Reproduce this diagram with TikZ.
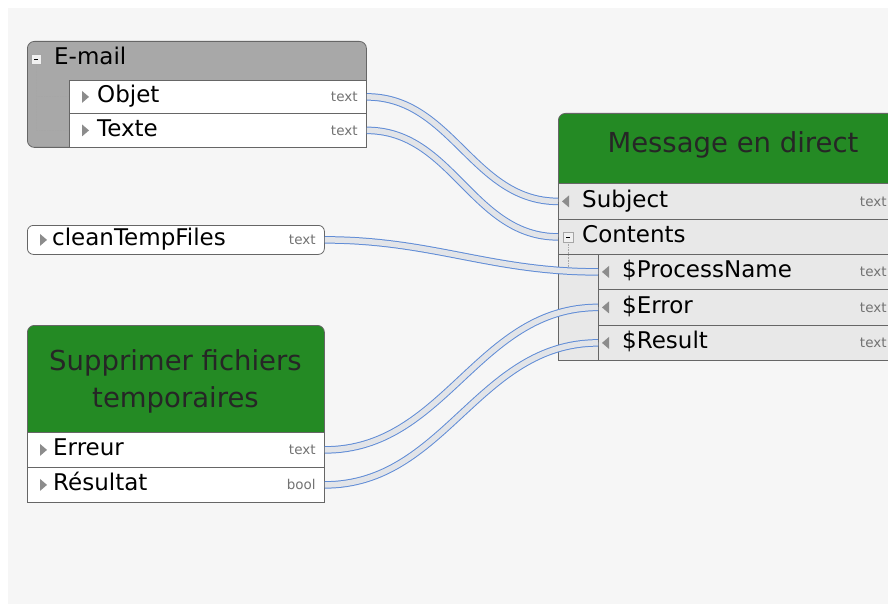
\documentclass[tikz,border=0pt]{standalone}
\usepackage{fontspec}
\setmainfont{DejaVu Sans}
\usetikzlibrary{positioning, calc}

\definecolor{hdrgreen}{RGB}{36,138,36}
\definecolor{boxgray}{RGB}{168,168,168}
\definecolor{rowgray}{RGB}{232,232,232}
\definecolor{bggray}{RGB}{246,246,246}
\definecolor{wireblue}{RGB}{96,140,214}
\definecolor{wirefill}{RGB}{226,228,232}

\tikzset{
  blk/.style={anchor=north west, inner sep=0pt, draw=black!60, line width=0.8pt},
  row/.style={blk, fill=white},
  msgrow/.style={blk, fill=rowgray},
  lbl/.style={inner sep=0pt, anchor=west, text height=16pt, text depth=4pt},
  typ/.style={inner sep=0pt, anchor=east, text=black!55, font=\fontsize{13.5}{15}\selectfont},
  hdrtext/.style={text=black!85, font=\fontsize{27.5}{37}\selectfont, align=center},
  toggle/.style={draw=black!35, fill=black!6, minimum size=10pt, inner sep=0pt},
  wire/.style={draw=wireblue, line width=1pt, double=wirefill, double distance=5.5pt},
  tree/.style={draw=black!35, densely dotted, line width=0.6pt},
}

\begin{document}
\begin{tikzpicture}[x=1pt, y=-1pt, font=\fontsize{23}{27}\selectfont]
    \useasboundingbox (0,0) rectangle (888,604);
    \clip (0,0) rectangle (888,604);
    \fill[bggray] (8,8) rectangle (888,604);

    % E-mail
    \node[blk, fill=boxgray, rounded corners=7pt, minimum width=339, minimum height=106] (email) at (27,41) {};
    \node[toggle] (emailtog) at (36,59) {\rule{4pt}{0.8pt}};
    \node[lbl] (emailtxt) at (54,59) {E-mail};
    \draw[tree] (emailtog.south) -- (36,130) -- (69,130);
    \draw[tree] (36,96) -- (69,96);
    \node[row, minimum width=297, minimum height=33] (objet) at (69,80) {};
    \node[row, minimum width=297, minimum height=34] (texte) at (69,113) {};
    \node[lbl, right=28pt of objet.west] (objetlbl) {Objet};
    \node[lbl, right=28pt of texte.west] (textelbl) {Texte};
    \node[typ, left=9pt of objet.east] (objettyp) {text};
    \node[typ, left=9pt of texte.east] (textetyp) {text};

    % cleanTempFiles
    \node[row, rounded corners=6pt, minimum width=297, minimum height=29] (clean) at (27,225) {};
    \node[lbl, right=25pt of clean.west] (cleanlbl) {cleanTempFiles};
    \node[typ, left=9pt of clean.east] (cleantyp) {text};

    % Supprimer fichiers temporaires
    \node[blk, fill=hdrgreen, rounded corners=7pt, minimum width=297, minimum height=120] (supp) at (27,325) {};
    \node[hdrtext] (supptxt) at (175.5,381) {Supprimer fichiers\\temporaires};
    \node[row, minimum width=297, minimum height=35] (erreur) at (27,432) {};
    \node[row, minimum width=297, minimum height=35] (resultat) at (27,467) {};
    \node[lbl, right=26pt of erreur.west] (erreurlbl) {Erreur};
    \node[lbl, right=26pt of resultat.west] (resultatlbl) {Résultat};
    \node[typ, left=9pt of erreur.east] (erreurtyp) {text};
    \node[typ, left=9pt of resultat.east] (resultattyp) {bool};

    % Message en direct
    \node[blk, fill=hdrgreen, rounded corners=7pt, minimum width=337, minimum height=80] (msg) at (558,113) {};
    \node[msgrow, minimum width=337, minimum height=177] (msgbody) at (558,183) {};
    \node[hdrtext] (msgtxt) at (733,145) {Message en direct};
    \node[msgrow, minimum width=337, minimum height=36] (subject) at (558,183) {};
    \node[msgrow, minimum width=337, minimum height=35] (contents) at (558,219) {};
    \node[toggle] (msgtog) at (568,237) {\rule{4pt}{0.8pt}};
    \draw[tree] (msgtog.south) -- (568,270);
    \node[msgrow, minimum width=297, minimum height=35] (procname) at (598,254) {};
    \node[msgrow, minimum width=297, minimum height=36] (errorin) at (598,289) {};
    \node[msgrow, minimum width=297, minimum height=35] (resultin) at (598,325) {};
    \node[lbl, right=24pt of subject.west] (subjectlbl) {Subject};
    \node[lbl, right=24pt of contents.west] (contentslbl) {Contents};
    \node[lbl, right=24pt of procname.west] (procnamelbl) {\$ProcessName};
    \node[lbl, right=24pt of errorin.west] (errorinlbl) {\$Error};
    \node[lbl, right=24pt of resultin.west] (resultinlbl) {\$Result};
    \foreach \r in {subject, procname, errorin, resultin}
        \node[typ, left=9pt of \r.east] (\r typ) {text};

    % port arrows
    \foreach \r in {objet, texte, clean, erreur, resultat}
        \fill[black!45] ($(\r.west)+(13,-6)$) -- ++(7,6) -- ++(-7,6) -- cycle;
    \foreach \r in {subject, procname, errorin, resultin}
        \fill[black!45] ($(\r.west)+(11,-6)$) -- ++(-7,6) -- ++(7,6) -- cycle;

    % Wires
    \draw[wire] (objet.east) to[out=0, in=180] (subject.west);
    \draw[wire] (texte.east) to[out=0, in=180] (contents.west);
    \draw[wire] (clean.east) to[out=0, in=180] (procname.west);
    \draw[wire] (erreur.east) to[out=0, in=180] (errorin.west);
    \draw[wire] (resultat.east) to[out=0, in=180] (resultin.west);
\end{tikzpicture}
\end{document}
